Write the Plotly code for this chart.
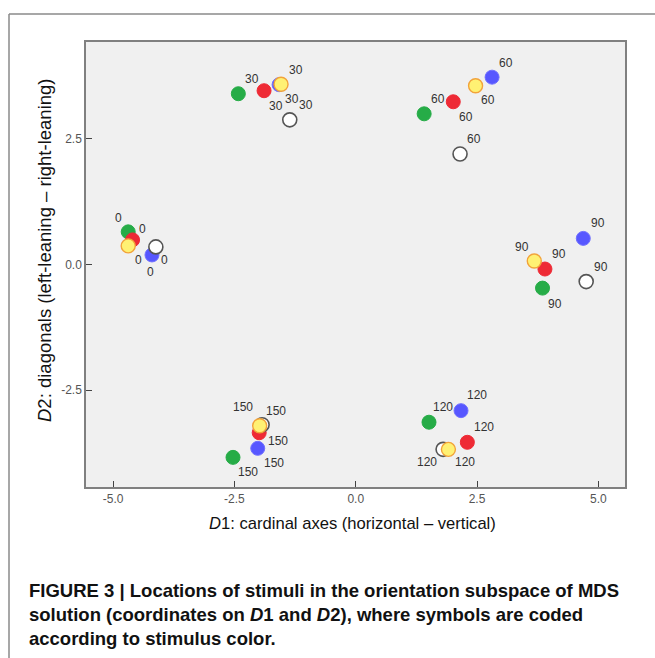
import plotly.graph_objects as go

# ---------------- data ----------------
orientations = [0, 30, 60, 90, 120, 150]
orientation_labels = ["0", "30", "60", "90", "120", "150"]

green_x = [-4.69, -2.42, 1.41, 3.85, 1.51, -2.53]
green_y = [0.65, 3.40, 3.00, -0.47, -3.14, -3.84]

red_x = [-4.60, -1.89, 2.01, 3.90, 2.30, -1.99]
red_y = [0.49, 3.46, 3.24, -0.09, -3.54, -3.35]

blue_x = [-4.20, -1.58, 2.81, 4.69, 2.17, -2.02]
blue_y = [0.19, 3.58, 3.73, 0.52, -2.91, -3.66]

white_x = [-4.12, -1.36, 2.15, 4.75, 1.80, -1.93]
white_y = [0.35, 2.88, 2.20, -0.34, -3.68, -3.19]

yellow_x = [-4.69, -1.54, 2.47, 3.68, 1.91, -1.98]
yellow_y = [0.37, 3.59, 3.56, 0.07, -3.68, -3.21]

x_ticks = [-5.0, -2.5, 0.0, 2.5, 5.0]
x_tick_text = ["-5.0", "-2.5", "0.0", "2.5", "5.0"]
y_ticks = [-2.5, 0.0, 2.5]
y_tick_text = ["-2.5", "0.0", "2.5"]

# ---------------- styles ----------------
series = [
    ("green", green_x, green_y, "#26AC47", "#26AC47", 1.0),
    ("red", red_x, red_y, "#EE2A35", "#EE2A35", 1.0),
    ("blue", blue_x, blue_y, "#5757FF", "#7070FF", 1.0),
    ("white", white_x, white_y, "#FFFFFF", "#555555", 1.6),
    ("yellow", yellow_x, yellow_y, "#FFF173", "#F2A33A", 1.4),
]

# label pixel offsets (dx right, dy down) per series, per orientation
label_offsets = {
    "green":  [(-10, -14), (14, -15), (14, -15), (12, 16), (14, -15), (15, 15)],
    "red":    [(10, -11), (12, 15), (13, 15), (14, -15), (17, -15), (19, 8)],
    "blue":   [(-1, 17), (13, 14), (14, -14), (15, -15), (16, -16), (16, 15)],
    "white":  [(9, 13), (16, -15), (14, -15), (15, -15), (-16, 13), (14, -14)],
    "yellow": [(10, 14), (15, -14), (12, 14), (-12, -14), (17, 13), (-17, -19)],
}

FONT = "Liberation Sans, Arial, sans-serif"

fig = go.Figure()
for name, xs, ys, fill, edge, lw in series:
    fig.add_trace(go.Scatter(
        x=xs, y=ys, mode="markers", name=name,
        marker=dict(size=14, color=fill, line=dict(color=edge, width=lw)),
        hoverinfo="skip", showlegend=False,
    ))

annotations = []
for name, xs, ys, fill, edge, lw in series:
    for i, lab in enumerate(orientation_labels):
        dx, dy = label_offsets[name][i]
        annotations.append(dict(
            x=xs[i], y=ys[i], xref="x", yref="y", text=lab, showarrow=False,
            xshift=dx, yshift=-dy, font=dict(family=FONT, size=12, color="#333333"),
        ))

# plot area in pixels: x 86..625, y 42..487
PL, PR, PT, PB = 86, 625, 42, 487
W, H = 655, 658


def px_x(px):
    return (px - PL) / (PR - PL)


def px_y(py):
    return (PB - py) / (PB - PT)


annotations.append(dict(
    x=px_x(352), y=px_y(523), xref="paper", yref="paper", showarrow=False,
    text="<i>D</i>1: cardinal axes (horizontal \u2013 vertical)",
    font=dict(family=FONT, size=16.6, color="#111111"), xanchor="center", yanchor="middle",
))
annotations.append(dict(
    x=px_x(45), y=px_y(250), xref="paper", yref="paper", showarrow=False,
    text="<i>D</i>2: diagonals (left-leaning \u2013 right-leaning)", textangle=-90,
    font=dict(family=FONT, size=18.5, color="#111111"), xanchor="center", yanchor="middle",
))

caption_lines = [
    "FIGURE 3 | Locations of stimuli in the orientation subspace of MDS",
    "solution (coordinates on <i>D</i>1 and <i>D</i>2), where symbols are coded",
    "according to stimulus color.",
]
for k, line in enumerate(caption_lines):
    annotations.append(dict(
        x=px_x(27), y=px_y(590 + 24 * k), xref="paper", yref="paper", showarrow=False,
        text="<b>" + line + "</b>", xanchor="left", yanchor="middle",
        font=dict(family="Liberation Sans Narrow, " + FONT, size=18.5, color="#111111"),
    ))

shapes = [
    dict(type="line", xref="paper", yref="paper", x0=px_x(9), x1=px_x(9),
         y0=px_y(14), y1=px_y(H + 5), line=dict(color="#8A8A8A", width=1.5)),
    dict(type="line", xref="paper", yref="paper", x0=px_x(9), x1=px_x(W + 5),
         y0=px_y(14), y1=px_y(14), line=dict(color="#8A8A8A", width=1.5)),
]

fig.update_layout(
    width=W, height=H,
    margin=dict(l=PL, r=W - PR, t=PT, b=H - PB, pad=0),
    paper_bgcolor="#FFFFFF", plot_bgcolor="#F0F0F0",
    annotations=annotations, shapes=shapes,
    xaxis=dict(range=[-5.56, 5.55], tickvals=x_ticks, ticktext=x_tick_text,
               ticks="inside", ticklen=6, tickcolor="#444444", showgrid=False,
               zeroline=False, showline=True, mirror=True, linecolor="#808080",
               linewidth=1.5, tickfont=dict(family=FONT, size=12, color="#555555")),
    yaxis=dict(range=[-4.43, 4.43], tickvals=y_ticks, ticktext=y_tick_text,
               ticks="inside", ticklen=6, tickcolor="#444444", showgrid=False,
               zeroline=False, showline=True, mirror=True, linecolor="#808080",
               linewidth=1.5, tickfont=dict(family=FONT, size=12, color="#555555")),
)

fig.write_html("out.html")
